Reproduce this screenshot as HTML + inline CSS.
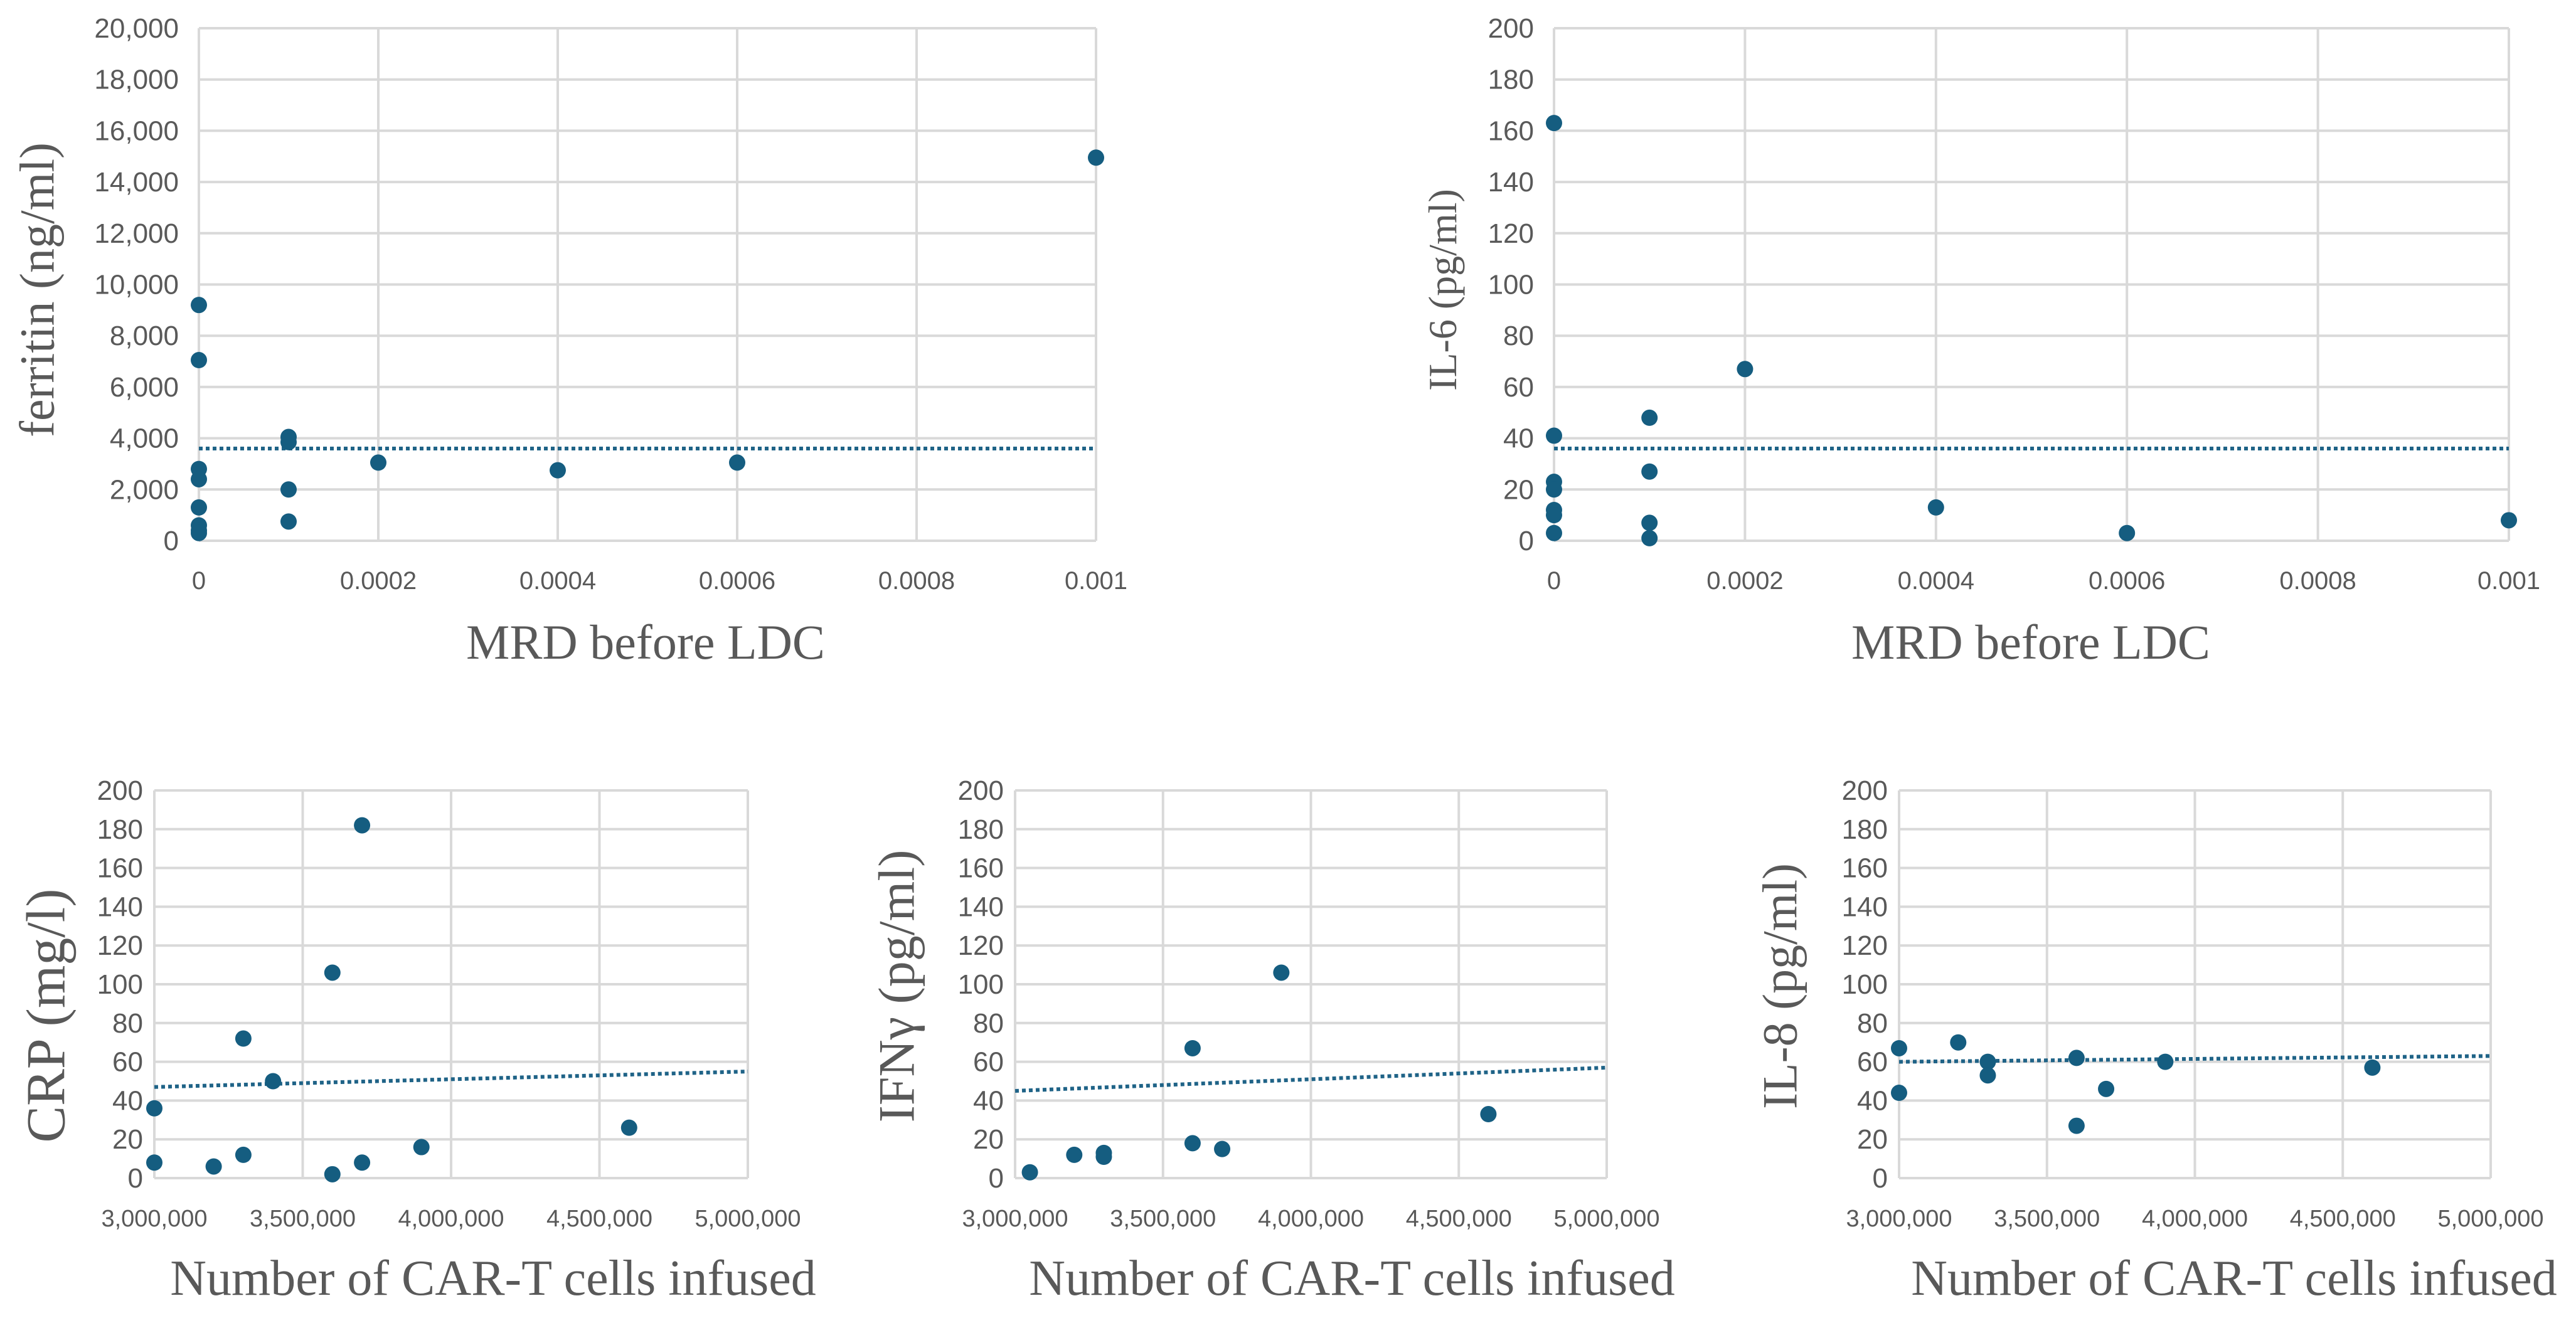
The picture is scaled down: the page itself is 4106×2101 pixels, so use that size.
<!DOCTYPE html>
<html><head><meta charset="utf-8"><style>
html,body{margin:0;padding:0;background:#fff;}
svg{display:block;}
.tick{font-family:"Liberation Sans Narrow","Liberation Sans",sans-serif;fill:#595959;}
.title{font-family:"Liberation Serif",serif;fill:#595959;}
</style></head><body>
<svg id="fig" width="4106" height="2101" viewBox="0 0 4106 2101" xmlns="http://www.w3.org/2000/svg"></svg>
<script>
// ---- data ----
const ferritinX = [0,0,0,0,0,0,0,0,0.0001,0.0001,0.0001,0.0001,0.0002,0.0004,0.0006,0.001];
const ferritinY = [9200,7050,2800,2400,1300,600,400,300,4050,3850,2000,750,3050,2750,3050,14950];
const ferritinTrend = [3600,3600];
const il6X = [0,0,0,0,0,0,0,0.0001,0.0001,0.0001,0.0001,0.0002,0.0004,0.0006,0.001];
const il6Y = [163,41,23,20,12,10,3,48,27,7,1,67,13,3,8];
const il6Trend = [36,36];
const crpX = [3000000,3000000,3200000,3300000,3300000,3400000,3600000,3600000,3700000,3700000,3900000,4600000];
const crpY = [36,8,6,72,12,50,106,2,182,8,16,26];
const crpTrend = [47,55];
const ifnX = [3050000,3200000,3300000,3300000,3600000,3600000,3700000,3900000,4600000];
const ifnY = [3,12,13,11,67,18,15,106,33];
const ifnTrend = [45,57];
const il8X = [3000000,3000000,3200000,3300000,3300000,3600000,3600000,3700000,3900000,4600000];
const il8Y = [67,44,70,60,53,62,27,46,60,57];
const il8Trend = [60,63];
const mrdTicks = [0,0.0002,0.0004,0.0006,0.0008,0.001];
const mrdTickLabels = ["0","0.0002","0.0004","0.0006","0.0008","0.001"];
const cellTicks = [3000000,3500000,4000000,4500000,5000000];
const cellTickLabels = ["3,000,000","3,500,000","4,000,000","4,500,000","5,000,000"];
const ferritinTicks = [0,2000,4000,6000,8000,10000,12000,14000,16000,18000,20000];
const ferritinTickLabels = ["0","2,000","4,000","6,000","8,000","10,000","12,000","14,000","16,000","18,000","20,000"];
const smallTicks = [0,20,40,60,80,100,120,140,160,180,200];
const smallTickLabels = ["0","20","40","60","80","100","120","140","160","180","200"];

const NS = "http://www.w3.org/2000/svg";
const svg = document.getElementById('fig');
function mk(tag, attrs, parent){ const e=document.createElementNS(NS,tag); for(const k in attrs) e.setAttribute(k,attrs[k]); (parent||svg).appendChild(e); return e; }

function chart(cfg){
  const g = mk('g',{});
  
  
  const sx = v => cfg.L + (v - cfg.xmin)/(cfg.xmax-cfg.xmin)*(cfg.R-cfg.L);
  const sy = v => cfg.B - (v - cfg.ymin)/(cfg.ymax-cfg.ymin)*(cfg.B-cfg.T);
  cfg.yTicks.forEach((t,i)=>{
    const l = mk('line',{x1:cfg.L,x2:cfg.R,y1:sy(t),y2:sy(t),stroke:'#d9d9d9','stroke-width':4},g);
    
    
    const tx = mk('text',{x:cfg.L-cfg.ylabGap,y:sy(t)+15,'text-anchor':'end',class:'tick','font-size':44},g);
    tx.textContent = cfg.yTickLabels[i];
    
    
  });
  cfg.xTicks.forEach((t,i)=>{
    const l = mk('line',{x1:sx(t),x2:sx(t),y1:cfg.T,y2:cfg.B,stroke:'#d9d9d9','stroke-width':4},g);
    
    
    const tx = mk('text',{x:sx(t),y:cfg.xlabY+14,'text-anchor':'middle',class:'tick','font-size':cfg.xtickSize},g);
    tx.textContent = cfg.xTickLabels[i];
    
    
  });
  const tr = mk('line',{x1:sx(cfg.xmin),x2:sx(cfg.xmax),y1:sy(cfg.trend[0]),y2:sy(cfg.trend[1]),stroke:'#1f6387','stroke-width':6,'stroke-dasharray':'6 5'},g);
  
  
  cfg.xs.forEach((x,i)=>{
    const c = mk('circle',{cx:sx(x),cy:sy(cfg.ys[i]),r:13,fill:'#155d80'},g);
    
    
  });
  const xt = mk('text',{x:cfg.xtX,y:cfg.xtY+26,'text-anchor':'middle',class:'title','font-size':cfg.xtSize},g);
  xt.textContent = cfg.xTitle;
  
  
  const yt = mk('text',{x:0,y:0,'text-anchor':'middle',class:'title','font-size':cfg.ytSize,transform:`translate(${cfg.ytX+cfg.ytSize*0.3},${cfg.ytY}) rotate(-90)`},g);
  yt.textContent = cfg.yTitle;
  
  
}

chart({name:'ferritin-chart',L:317,R:1747,T:45,B:862,xmin:0,xmax:0.001,ymin:0,ymax:20000,
  xTicks:mrdTicks,xTickLabels:mrdTickLabels,yTicks:ferritinTicks,yTickLabels:ferritinTickLabels,
  xs:ferritinX,ys:ferritinY,trend:ferritinTrend,ylabGap:32,xlabY:925,xtickSize:40,
  xTitle:'MRD before LDC',xtX:1029,xtY:1024,xtSize:78,yTitle:'ferritin (ng/ml)',ytX:62,ytY:462,ytSize:78});
chart({name:'il6-chart',L:2477,R:3999,T:45,B:862,xmin:0,xmax:0.001,ymin:0,ymax:200,
  xTicks:mrdTicks,xTickLabels:mrdTickLabels,yTicks:smallTicks,yTickLabels:smallTickLabels,
  xs:il6X,ys:il6Y,trend:il6Trend,ylabGap:32,xlabY:925,xtickSize:40,
  xTitle:'MRD before LDC',xtX:3237,xtY:1024,xtSize:78,yTitle:'IL-6 (pg/ml)',ytX:2302,ytY:462,ytSize:64});
chart({name:'crp-chart',L:246,R:1192,T:1260,B:1878,xmin:3000000,xmax:5000000,ymin:0,ymax:200,
  xTicks:cellTicks,xTickLabels:cellTickLabels,yTicks:smallTicks,yTickLabels:smallTickLabels,
  xs:crpX,ys:crpY,trend:crpTrend,ylabGap:18,xlabY:1941,xtickSize:38,
  xTitle:'Number of CAR-T cells infused',xtX:786,xtY:2038,xtSize:80,yTitle:'CRP (mg/l)',ytX:76,ytY:1619,ytSize:88});
chart({name:'ifn-gamma-chart',L:1618,R:2561,T:1260,B:1878,xmin:3000000,xmax:5000000,ymin:0,ymax:200,
  xTicks:cellTicks,xTickLabels:cellTickLabels,yTicks:smallTicks,yTickLabels:smallTickLabels,
  xs:ifnX,ys:ifnY,trend:ifnTrend,ylabGap:18,xlabY:1941,xtickSize:38,
  xTitle:'Number of CAR-T cells infused',xtX:2155,xtY:2038,xtSize:80,yTitle:'IFNγ (pg/ml)',ytX:1432,ytY:1572,ytSize:82});
chart({name:'il8-chart',L:3027,R:3970,T:1260,B:1878,xmin:3000000,xmax:5000000,ymin:0,ymax:200,
  xTicks:cellTicks,xTickLabels:cellTickLabels,yTicks:smallTicks,yTickLabels:smallTickLabels,
  xs:il8X,ys:il8Y,trend:il8Trend,ylabGap:18,xlabY:1941,xtickSize:38,
  xTitle:'Number of CAR-T cells infused',xtX:3561,xtY:2038,xtSize:80,yTitle:'IL-8 (pg/ml)',ytX:2840,ytY:1572,ytSize:78});
</script>
</body></html>
